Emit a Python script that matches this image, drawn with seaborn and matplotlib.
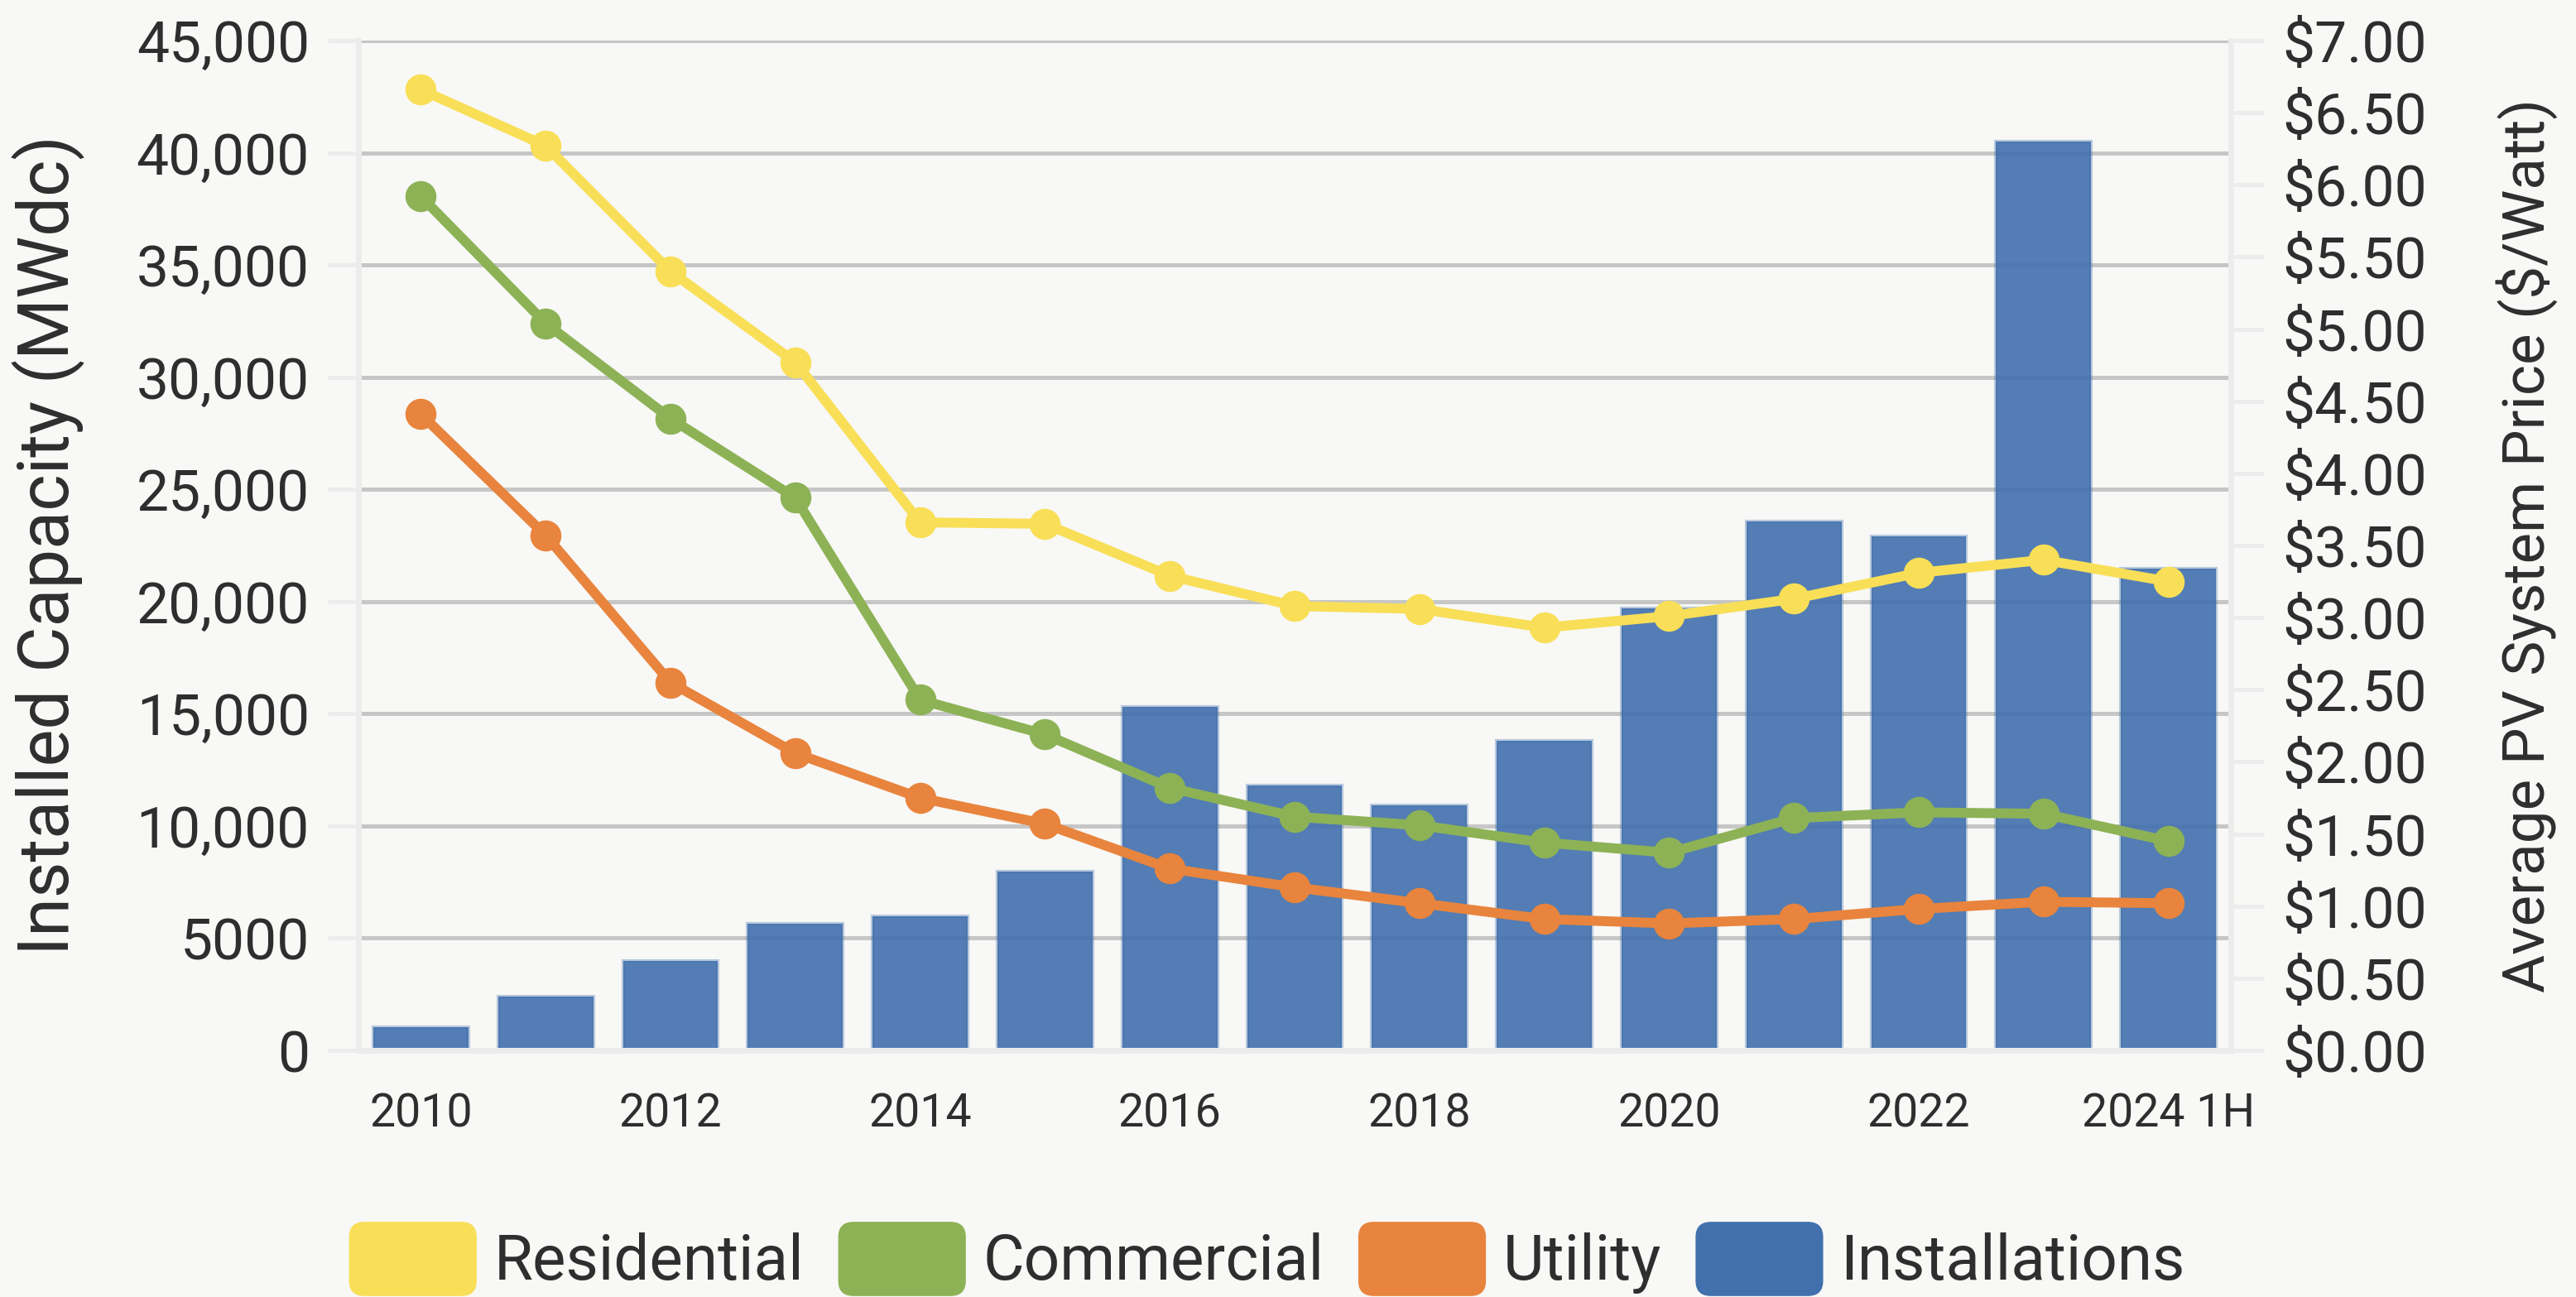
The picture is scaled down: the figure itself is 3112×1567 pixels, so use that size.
import matplotlib
matplotlib.use("Agg")
import matplotlib.pyplot as plt
import pandas as pd
import seaborn as sns
from matplotlib.patches import Patch, FancyBboxPatch
from matplotlib.legend_handler import HandlerPatch

# Data
years = ['2010', '2011', '2012', '2013', '2014', '2015', '2016', '2017',
         '2018', '2019', '2020', '2021', '2022', '2023', '2024 1H']
capacity = [1030, 2380, 4000, 5650, 5980, 7970, 15300, 11820,
            10900, 13780, 19680, 23560, 22900, 40500, 21460]
residential = [6.66, 6.27, 5.40, 4.77, 3.66, 3.65, 3.29, 3.08,
               3.06, 2.93, 3.01, 3.13, 3.31, 3.40, 3.25]
commercial = [5.92, 5.04, 4.38, 3.83, 2.43, 2.19, 1.82, 1.62,
              1.56, 1.44, 1.37, 1.61, 1.65, 1.64, 1.45]
utility = [4.41, 3.57, 2.55, 2.06, 1.75, 1.57, 1.26, 1.13,
           1.02, 0.91, 0.88, 0.91, 0.98, 1.03, 1.02]
segments = ['Residential', 'Commercial', 'Utility']
cap_ticks = list(range(0, 45001, 5000))
price_ticks = [i * 0.5 for i in range(15)]
year_labels = [y if i % 2 == 0 else '' for i, y in enumerate(years)]

BG = '#f8f8f6'
seg_colors = {'Residential': '#f8df57', 'Commercial': '#8db256', 'Utility': '#e8843d'}
bar_color = '#4170ad'
text_color = '#2e2e2e'

sns.set_style('white', {'axes.facecolor': BG, 'figure.facecolor': BG})
plt.rcParams['font.family'] = ['Roboto', 'DejaVu Sans']
plt.rcParams['text.color'] = text_color
plt.rcParams['axes.labelcolor'] = text_color
plt.rcParams['xtick.color'] = text_color
plt.rcParams['ytick.color'] = text_color

W, H = 3112, 1567
fig = plt.figure(figsize=(W / 100, H / 100), dpi=100)
ax = fig.add_axes([433 / W, 1 - 1269 / H, (2695 - 433) / W, (1269 - 49) / H])

# bars - installed capacity
df_bar = pd.DataFrame({'year': years, 'capacity': capacity})
sns.barplot(data=df_bar, x='year', y='capacity', color=bar_color, saturation=1,
            width=0.76, ax=ax, zorder=2)
for p in ax.patches:
    p.set_facecolor((0.255, 0.44, 0.68, 0.9))
    p.set_edgecolor((0.255, 0.44, 0.68, 0.35))
    p.set_linewidth(3)

ax.set_ylim(0, 45000)
ax.set_yticks(cap_ticks)
ax.set_yticklabels([f'{v:,}' if v >= 10000 else str(v) for v in cap_ticks])
ax.yaxis.grid(True, color='#c6c6c6', linewidth=3.6)
ax.xaxis.grid(False)
ax.set_axisbelow(True)
ax.set_xticks(range(len(years)))
ax.set_xticklabels(year_labels)
ax.tick_params(axis='y', length=26.5, width=3.6, color='#ececec', labelsize=50, pad=16)
ax.tick_params(axis='x', length=26, width=3.6, color='#eeeeee', labelsize=40, pad=10)
ax.set_xlabel('')
ax.set_ylabel('Installed Capacity (MWdc)', fontsize=61, labelpad=44)

# lines - average price
ax2 = ax.twinx()
df_price = pd.concat([
    pd.DataFrame({'pos': range(len(years)), 'price': vals, 'segment': name})
    for name, vals in zip(segments, [residential, commercial, utility])
])
sns.lineplot(data=df_price, x='pos', y='price', hue='segment', palette=seg_colors,
             hue_order=segments, marker='o', markersize=27, markeredgewidth=0,
             linewidth=8.6, legend=False, sort=False, ax=ax2,
             solid_capstyle='round', solid_joinstyle='round')
ax2.set_ylim(0, 7)
ax2.set_yticks(price_ticks)
ax2.set_yticklabels([f'${v:.2f}' for v in price_ticks])
ax2.tick_params(axis='y', length=29, width=3.6, color='#ececec', labelsize=50, pad=16)
ax2.set_ylabel('Average PV System Price ($/Watt)', fontsize=51, labelpad=60)
ax.set_xlim(-0.5, len(years) - 0.5)

for a in (ax, ax2):
    a.spines['top'].set_visible(False)
    for s in ('left', 'right', 'bottom'):
        a.spines[s].set_color('#ececec')
        a.spines[s].set_linewidth(5)

# legend with rounded swatches
def rounded_patch(legend, orig_handle, xdescent, ydescent, width, height, fontsize):
    return FancyBboxPatch((-xdescent, -ydescent), width, height,
                          boxstyle=f'round,pad=0,rounding_size={height * 0.2}')

handles = [Patch(color=seg_colors[s]) for s in segments] + [Patch(color=bar_color)]
labels = segments + ['Installations']
fig.legend(handles, labels, loc='center', bbox_to_anchor=(1531 / W, 46 / H), ncol=4,
           frameon=False, fontsize=55, handlelength=2.0, handleheight=1.4,
           handletextpad=0.28, columnspacing=0.55, borderpad=0,
           handler_map={Patch: HandlerPatch(patch_func=rounded_patch)})

fig.savefig('out.png', dpi=100, facecolor=BG)
